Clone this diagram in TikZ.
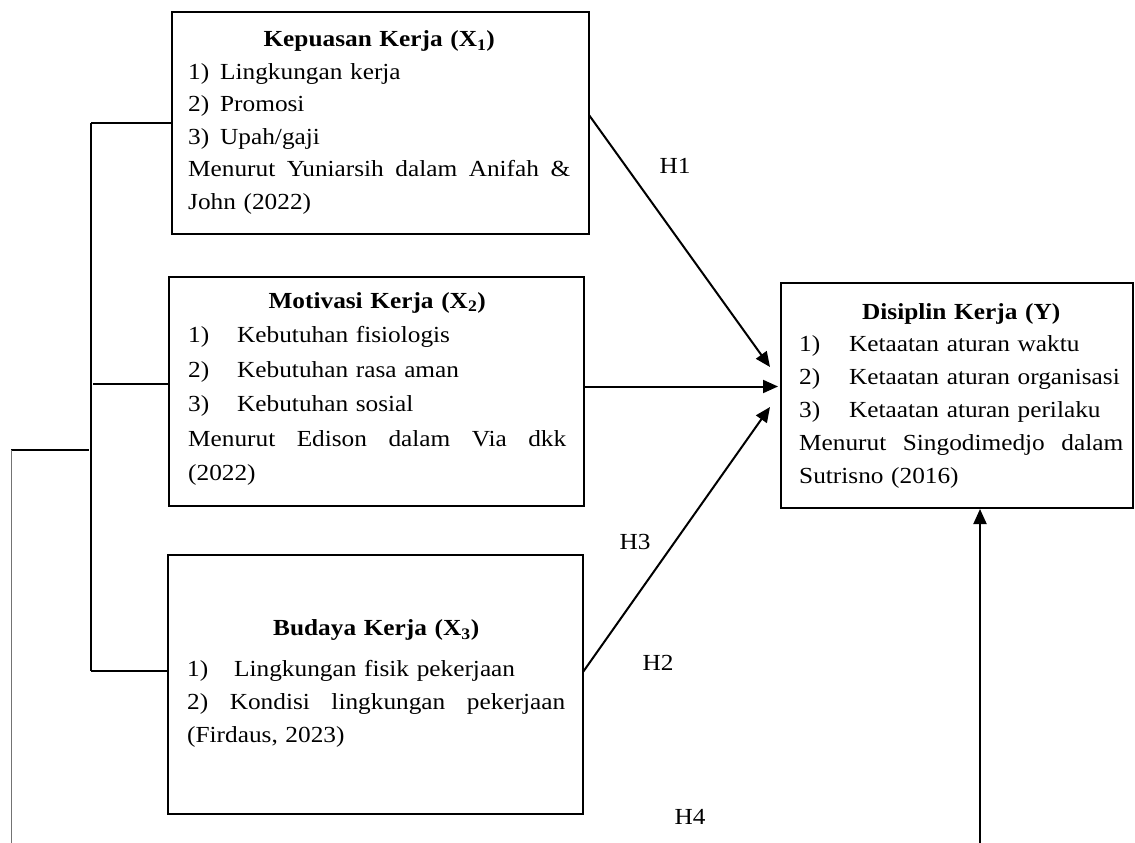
\documentclass[tikz,border=0pt]{standalone}
\usepackage{fontspec}
\setmainfont[FakeStretch=1.1]{Liberation Serif}
\usetikzlibrary{arrows.meta}
\begin{document}
\begin{tikzpicture}[x=1pt,y=-1pt,
  box/.style={draw, line width=2pt, inner sep=0pt},
  txt/.style={inner sep=0pt, anchor=base west, align=left},
  conn/.style={line width=2pt},
  thinline/.style={line width=0.9pt, black!55},
  arr/.style={line width=2pt, -{Triangle[length=15pt,width=13pt]}},
  hlab/.style={inner sep=0pt, font=\fontsize{23}{28}\selectfont}]
\useasboundingbox (0,0) rectangle (1135,843);

% boxes
\node[box, minimum width=417pt, minimum height=222pt] (x1) at (380.5,123) {};
\node[box, minimum width=415pt, minimum height=229pt] (x2) at (376.5,391.5) {};
\node[box, minimum width=415pt, minimum height=259pt] (x3) at (375.5,684.5) {};
\node[box, minimum width=352pt, minimum height=225pt] (y) at (957,395.5) {};

% texts
\node[txt, text width=382pt, font=\fontsize{23}{32.5}\selectfont] (x1t) at (188,47)
{\makebox[382pt][c]{\bfseries Kepuasan Kerja (X\textsubscript{1})}\\
\makebox[32pt][l]{1)}Lingkungan kerja\\
\makebox[32pt][l]{2)}Promosi\\
\makebox[32pt][l]{3)}Upah/gaji\\
\makebox[382pt][s]{Menurut\hfill Yuniarsih\hfill dalam\hfill Anifah\hfill \&}\\
John (2022)};

\node[txt, text width=378pt, font=\fontsize{23}{34.5}\selectfont] (x2t) at (188,308)
{\makebox[378pt][c]{\bfseries Motivasi Kerja (X\textsubscript{2})}\\
\makebox[49pt][l]{1)}Kebutuhan fisiologis\\
\makebox[49pt][l]{2)}Kebutuhan rasa aman\\
\makebox[49pt][l]{3)}Kebutuhan sosial\\
\makebox[378pt][s]{Menurut\hfill Edison\hfill dalam\hfill Via\hfill dkk}\\
(2022)};

\node[txt, text width=378pt, font=\fontsize{23}{33}\selectfont] (x3t) at (187,635.5)
{\makebox[378pt][c]{\bfseries Budaya Kerja (X\textsubscript{3})}\\[7.5pt]
\makebox[47pt][l]{1)}Lingkungan fisik pekerjaan\\
\makebox[378pt][s]{2)\hfill Kondisi\hfill lingkungan\hfill pekerjaan}\\
(Firdaus, 2023)};

\node[txt, text width=324pt, font=\fontsize{23}{32.8}\selectfont] (yt) at (799,319)
{\makebox[324pt][c]{\bfseries Disiplin Kerja (Y)}\\
\makebox[50pt][l]{1)}Ketaatan aturan waktu\\
\makebox[50pt][l]{2)}Ketaatan aturan organisasi\\
\makebox[50pt][l]{3)}Ketaatan aturan perilaku\\
\makebox[324pt][s]{Menurut\hfill Singodimedjo\hfill dalam}\\
Sutrisno (2016)};

% hypothesis labels
\node[hlab] (h1) at (675,166) {H1};
\node[hlab] (h3) at (635,542) {H3};
\node[hlab] (h2) at (658,663) {H2};
\node[hlab] (h4) at (690,817) {H4};

% coordinates
\coordinate (b1) at (91,123);
\coordinate (b2) at (93,384);
\coordinate (b2e) at (169,384);
\coordinate (b3) at (91,671);
\coordinate (b3e) at (168,671);
\coordinate (bv) at (91,671);
\coordinate (c1) at (11,450);
\coordinate (c2) at (89,450);
\coordinate (c3) at (11,843);
\coordinate (h1s) at (589,115);
\coordinate (h1e) at (770,367);
\coordinate (x2s) at (584,386.5);
\coordinate (x2e) at (778,386.5);
\coordinate (h3s) at (583,672);
\coordinate (h3e) at (770,407);
\coordinate (h4s) at (980,843);

% left bracket
\draw[conn] (b1) -- (x1.west);
\draw[conn] (b1) -- (bv);
\draw[conn] (b2) -- (b2e);
\draw[conn] (b3) -- (b3e);
\draw[conn] (c1) -- (c2);
\draw[thinline] (c1) -- (c3);

% arrows
\draw[arr] (h1s) -- (h1e);
\draw[arr] (x2s) -- (x2e);
\draw[arr] (h3s) -- (h3e);
\draw[arr] (h4s) -- (y.south -| h4s);
\end{tikzpicture}
\end{document}
